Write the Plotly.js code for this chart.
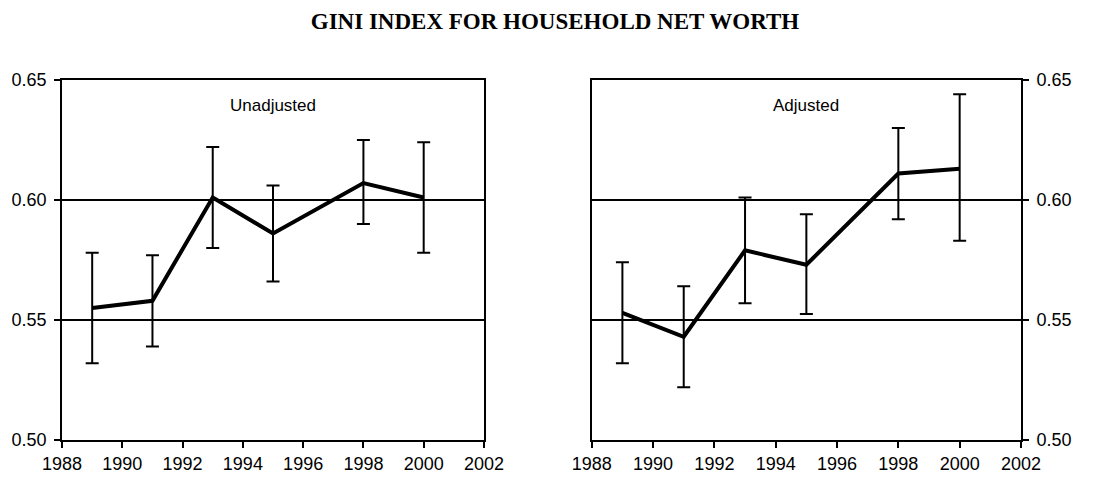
<!DOCTYPE html>
<html>
<head>
<meta charset="utf-8">
<script src="https://cdn.plot.ly/plotly-3.0.1.min.js"></script>
<style>html,body{margin:0;padding:0;background:#fff;}#chart{width:1110px;height:490px;}</style>
</head>
<body>
<div id="chart"></div>
<script>
const years = [1989, 1991, 1993, 1995, 1998, 2000];
const unadjusted = [0.555, 0.558, 0.601, 0.586, 0.607, 0.601];
const unadjustedUpper = [0.578, 0.577, 0.622, 0.606, 0.625, 0.624];
const unadjustedLower = [0.532, 0.539, 0.580, 0.566, 0.590, 0.578];
const adjusted = [0.553, 0.543, 0.579, 0.573, 0.611, 0.613];
const adjustedUpper = [0.574, 0.564, 0.601, 0.594, 0.630, 0.644];
const adjustedLower = [0.532, 0.522, 0.557, 0.5525, 0.592, 0.583];
const xTicks = [1988, 1990, 1992, 1994, 1996, 1998, 2000, 2002];
const yTicks = [0.50, 0.55, 0.60, 0.65];
const panelLabels = ['Unadjusted', 'Adjusted'];
const chartTitle = 'GINI INDEX FOR HOUSEHOLD NET WORTH';

const plus = (hi, v) => hi.map((h, i) => +(h - v[i]).toFixed(4));
const minus = (lo, v) => lo.map((l, i) => +(v[i] - l).toFixed(4));

const errStyle = {type: 'data', symmetric: false, color: '#000', thickness: 2, width: 6.5};

const traces = [
  {x: years, y: unadjusted, xaxis: 'x', yaxis: 'y', mode: 'lines', type: 'scatter',
   line: {color: '#000', width: 4}, hoverinfo: 'x+y',
   error_y: Object.assign({array: plus(unadjustedUpper, unadjusted), arrayminus: minus(unadjustedLower, unadjusted)}, errStyle)},
  {x: years, y: adjusted, xaxis: 'x2', yaxis: 'y2', mode: 'lines', type: 'scatter',
   line: {color: '#000', width: 4}, hoverinfo: 'x+y',
   error_y: Object.assign({array: plus(adjustedUpper, adjusted), arrayminus: minus(adjustedLower, adjusted)}, errStyle)}
];

const tickFont = {family: 'Liberation Sans, Arial, sans-serif', size: 18, color: '#000'};
const xBase = {range: [1988, 2002], tickvals: xTicks, ticktext: xTicks.map(String), ticks: 'outside',
  ticklen: 6, tickwidth: 2, tickcolor: '#000', showline: true, linecolor: '#000', linewidth: 2,
  mirror: true, showgrid: false, zeroline: false, tickfont: tickFont, fixedrange: true};
const yBase = {range: [0.50, 0.65], tickvals: yTicks, ticktext: yTicks.map(v => v.toFixed(2)),
  ticks: 'outside', ticklen: 6, tickwidth: 2, tickcolor: '#000', showline: true, linecolor: '#000',
  linewidth: 2, mirror: true, showgrid: true, gridcolor: '#000', gridwidth: 1.5, zeroline: false,
  tickfont: tickFont, fixedrange: true, domain: [0.102, 0.837], ticklabelstandoff: 4};

const layout = {
  width: 1110, height: 490,
  margin: {l: 0, r: 0, t: 0, b: 0},
  paper_bgcolor: '#fff', plot_bgcolor: '#fff',
  showlegend: false,
  title: {text: '<b>' + chartTitle + '</b>', x: 0.5, xanchor: 'center', y: 0.957, yanchor: 'middle',
    font: {family: 'Liberation Serif, Times New Roman, serif', size: 23, color: '#000'}},
  xaxis: Object.assign({}, xBase, {domain: [0.0559, 0.436], anchor: 'y'}),
  xaxis2: Object.assign({}, xBase, {domain: [0.5331, 0.9198], anchor: 'y2'}),
  yaxis: Object.assign({}, yBase, {anchor: 'x', side: 'left'}),
  yaxis2: Object.assign({}, yBase, {anchor: 'x2', side: 'right'}),
  annotations: [
    {text: panelLabels[0], xref: 'x domain', yref: 'y domain', x: 0.5, y: 0.93, xanchor: 'center', yanchor: 'middle',
     showarrow: false, font: {family: 'Liberation Sans, Arial, sans-serif', size: 17, color: '#000'}},
    {text: panelLabels[1], xref: 'x2 domain', yref: 'y2 domain', x: 0.5, y: 0.93, xanchor: 'center', yanchor: 'middle',
     showarrow: false, font: {family: 'Liberation Sans, Arial, sans-serif', size: 17, color: '#000'}}
  ]
};

Plotly.newPlot('chart', traces, layout, {displayModeBar: false, staticPlot: true});
</script>
</body>
</html>
